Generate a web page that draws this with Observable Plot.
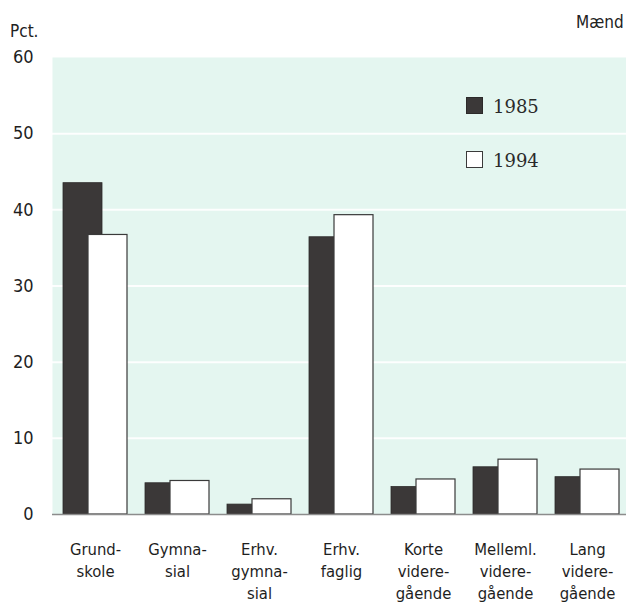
<!DOCTYPE html>
<html><head><meta charset="utf-8">
<script src="https://cdn.jsdelivr.net/npm/d3@7"></script>
<script src="https://cdn.jsdelivr.net/npm/@observablehq/plot@0.6"></script>
<style>
body{margin:0;background:#fff;}
#wrap{position:relative;width:626px;height:604px;font-family:"Liberation Sans Narrow","DejaVu Sans Condensed",sans-serif;color:#222;}
.lbl{position:absolute;font-size:17px;line-height:1;}
.sw{position:absolute;width:17px;height:17px;box-sizing:border-box;}
.lt{position:absolute;font-family:"DejaVu Serif","Liberation Serif",serif;font-size:18px;line-height:1;color:#2a2a2a;}
</style></head><body><div id="wrap"></div>
<script>
const categories = ["Grundskole","Gymnasial","Erhv. gymnasial","Erhv. faglig","Korte videregående","Melleml. videregående","Lang videregående"];
const tickLabels = ["Grund-\nskole","Gymna-\nsial","Erhv.\ngymna-\nsial","Erhv.\nfaglig","Korte\nvidere-\ngående","Melleml.\nvidere-\ngående","Lang\nvidere-\ngående"];
const v1985 = [43.5, 4.1, 1.3, 36.4, 3.6, 6.2, 4.9];
const v1994 = [36.7, 4.4, 2.0, 39.3, 4.6, 7.2, 5.9];
const yTicks = [0, 10, 20, 30, 40, 50, 60];
const gridTicks = [10, 20, 30, 40, 50];
const series = ["1985", "1994"];

const d85 = categories.map((c, i) => ({cat: c, value: v1985[i]}));
const d94 = categories.map((c, i) => ({cat: c, value: v1994[i]}));
const labelOf = new Map(categories.map((c, i) => [c, tickLabels[i]]));

const chart = Plot.plot({
  width: 626,
  height: 604,
  marginLeft: 52,
  marginRight: 0,
  marginTop: 57,
  marginBottom: 90,
  style: {fontFamily: '"Liberation Sans Narrow","DejaVu Sans Condensed",sans-serif', color: "#1e1e1e", background: "#fff"},
  x: {type: "band", domain: categories, range: [53, 629], padding: 0, axis: null},
  y: {domain: [0, 60], axis: null},
  marks: [
    Plot.frame({fill: "#e4f6f0", stroke: "none"}),
    Plot.ruleY(gridTicks, {stroke: "#ffffff", strokeWidth: 2, strokeOpacity: 0.9}),
    Plot.barY(d85, {x: "cat", y: "value", fill: "#3b3838", stroke: "#2c2a2a", strokeWidth: 0.8, insetLeft: 9, insetRight: 34}),
    Plot.barY(d94, {x: "cat", y: "value", fill: "#ffffff", stroke: "#3a3a3a", strokeWidth: 1.2, insetLeft: 34, insetRight: 9}),
    Plot.ruleY([0], {stroke: "#8c8c8c", strokeWidth: 1.5}),
    Plot.axisY({ticks: yTicks, tickSize: 0, tickPadding: 19, fontSize: 18, label: null}),
    Plot.axisX({tickSize: 0, tickPadding: 25, fontSize: 16.5, lineHeight: 1.32, fontWeight: 500, label: null, tickFormat: d => labelOf.get(d)})
  ]
});

const wrap = document.getElementById("wrap");
wrap.appendChild(chart);

function addDiv(cls, text, left, top, extra) {
  const el = document.createElement("div");
  el.className = cls;
  if (text) el.textContent = text;
  el.style.left = left + "px";
  el.style.top = top + "px";
  if (extra) Object.assign(el.style, extra);
  wrap.appendChild(el);
}
addDiv("lbl", "Pct.", 10, 23);
addDiv("lbl", "Mænd", 576, 14);
addDiv("sw", "", 466, 97, {background: "#3b3838", border: "1px solid #2c2a2a"});
addDiv("lt", series[0], 493, 98);
addDiv("sw", "", 466, 151, {background: "#ffffff", border: "1.2px solid #3a3a3a"});
addDiv("lt", series[1], 493, 152);
</script>
</body></html>
